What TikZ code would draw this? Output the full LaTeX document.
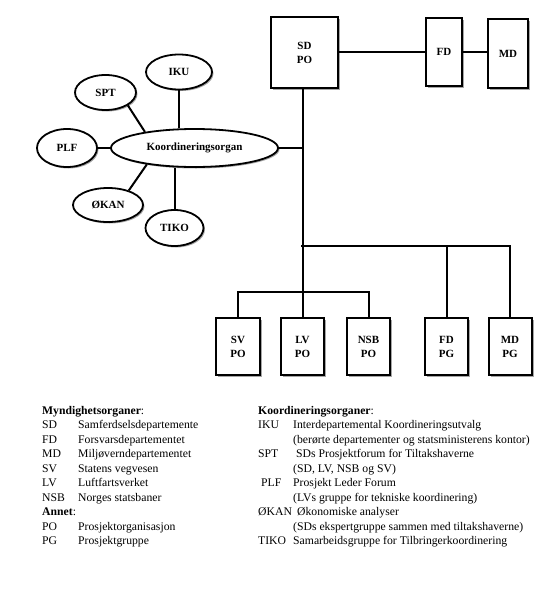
\documentclass[tikz,border=0pt]{standalone}
\usepackage{fontspec}
\setmainfont{Liberation Serif}
\usetikzlibrary{shadows,shapes.geometric}
\begin{document}
\begin{tikzpicture}[x=1pt,y=-1pt,
  every node/.style={font=\fontsize{11}{13}\selectfont},
  boxnode/.style={draw,line width=2pt,fill=white,align=center,inner sep=0pt,
    font=\fontsize{11}{14}\selectfont\bfseries,
    drop shadow={shadow xshift=2pt,shadow yshift=-2pt,fill=gray!70,opacity=1}},
  ellnode/.style={draw,ellipse,line width=1.8pt,fill=white,inner sep=0pt,
    font=\fontsize{11}{13}\selectfont\bfseries,
    drop shadow={shadow xshift=1.5pt,shadow yshift=-1.5pt,fill=gray!70,opacity=1}},
  conn/.style={line width=2pt},
  leg/.style={anchor=base west,inner sep=0pt,font=\fontsize{11.7}{13}\selectfont}]
\useasboundingbox (0,0) rectangle (554,592);
% top boxes
\node[boxnode,minimum width=67pt,minimum height=71pt] (SD) at (304.5,52.5) {SD\\PO};
\node[boxnode,minimum width=36pt,minimum height=68pt] (FD) at (444,52) {FD};
\node[boxnode,minimum width=40pt,minimum height=69pt] (MD) at (508,53.5) {MD};
% bottom boxes
\node[boxnode,minimum width=44pt,minimum height=57pt] (SV) at (238,346.5) {SV\\PO};
\node[boxnode,minimum width=43pt,minimum height=57pt] (LV) at (302.5,346.5) {LV\\PO};
\node[boxnode,minimum width=43pt,minimum height=57pt] (NSB) at (368.5,346.5) {NSB\\PO};
\node[boxnode,minimum width=43pt,minimum height=57pt] (FDPG) at (446.5,346.5) {FD\\PG};
\node[boxnode,minimum width=43pt,minimum height=57pt] (MDPG) at (510,346.5) {MD\\PG};
% ellipses
\node[ellnode,minimum width=167pt,minimum height=38pt] (KO) at (194.5,148) {Koordineringsorgan};
\node[ellnode,minimum width=66pt,minimum height=35pt] (IKU) at (179,72) {IKU};
\node[ellnode,minimum width=61pt,minimum height=35pt] (SPT) at (105.5,92.5) {SPT};
\node[ellnode,minimum width=60pt,minimum height=38pt] (PLF) at (67,148) {PLF};
\node[ellnode,minimum width=70pt,minimum height=34pt] (OKAN) at (108,205) {ØKAN};
\node[ellnode,minimum width=58pt,minimum height=36pt] (TIKO) at (174.5,228) {TIKO};
% connectors
\coordinate (bus1) at (301,246);
\coordinate (bus2) at (301,292);
\draw[conn] (SD.east |- FD.west) -- (FD.west);
\draw[conn] (FD.east) -- (FD.east -| MD.west);
\draw[conn] (LV.north |- SD.south) -- (LV.north);
\draw[conn] (KO.east) -- (KO.east -| LV.north);
\draw[conn] (bus1) -| (FDPG.north);
\draw[conn] (bus1) -| (MDPG.north);
\draw[conn] (SV.north) |- (bus2) -| (NSB.north);
\draw[conn] (IKU.south) -- (KO.north -| IKU.south);
\draw[conn] (SPT.-30) -- (KO.162);
\draw[conn] (PLF.east) -- (KO.west);
\draw[conn] (OKAN.35) -- (KO.-161);
\draw[conn] (TIKO.north) -- (TIKO.north |- KO.south);
% legend left
\node[leg] (L0) at (42,414) {\textbf{Myndighetsorganer}:};
\node[leg] (L1a) at (42,428.5) {SD};  \node[leg] (L1b) at (78,428.5) {Samferdselsdepartemente};
\node[leg] (L2a) at (42,443) {FD};    \node[leg] (L2b) at (78,443) {Forsvarsdepartementet};
\node[leg] (L3a) at (42,457.5) {MD};  \node[leg] (L3b) at (78,457.5) {Miljøverndepartementet};
\node[leg] (L4a) at (42,472) {SV};    \node[leg] (L4b) at (78,472) {Statens vegvesen};
\node[leg] (L5a) at (42,486.5) {LV};  \node[leg] (L5b) at (78,486.5) {Luftfartsverket};
\node[leg] (L6a) at (42,501) {NSB};   \node[leg] (L6b) at (78,501) {Norges statsbaner};
\node[leg] (L7) at (42,515.5) {\textbf{Annet}:};
\node[leg] (L8a) at (42,530) {PO};    \node[leg] (L8b) at (78,530) {Prosjektorganisasjon};
\node[leg] (L9a) at (42,544.5) {PG};  \node[leg] (L9b) at (78,544.5) {Prosjektgruppe};
% legend right
\node[leg] (R0) at (258,414) {\textbf{Koordineringsorganer}:};
\node[leg] (R1a) at (258,428.5) {IKU};  \node[leg] (R1b) at (293,428.5) {Interdepartemental Koordineringsutvalg};
\node[leg] (R2) at (293,443) {(berørte departementer og statsministerens kontor)};
\node[leg] (R3a) at (258,457.5) {SPT};  \node[leg] (R3b) at (296,457.5) {SDs Prosjektforum for Tiltakshaverne};
\node[leg] (R4) at (293,472) {(SD, LV, NSB og SV)};
\node[leg] (R5a) at (261,486.5) {PLF};  \node[leg] (R5b) at (293,486.5) {Prosjekt Leder Forum};
\node[leg] (R6) at (293,501) {(LVs gruppe for tekniske koordinering)};
\node[leg] (R7a) at (258,515.5) {ØKAN}; \node[leg] (R7b) at (297,515.5) {Økonomiske analyser};
\node[leg] (R8) at (293,530) {(SDs ekspertgruppe sammen med tiltakshaverne)};
\node[leg] (R9a) at (258,544.5) {TIKO}; \node[leg] (R9b) at (293,544.5) {Samarbeidsgruppe for Tilbringerkoordinering};
\end{tikzpicture}
\end{document}
